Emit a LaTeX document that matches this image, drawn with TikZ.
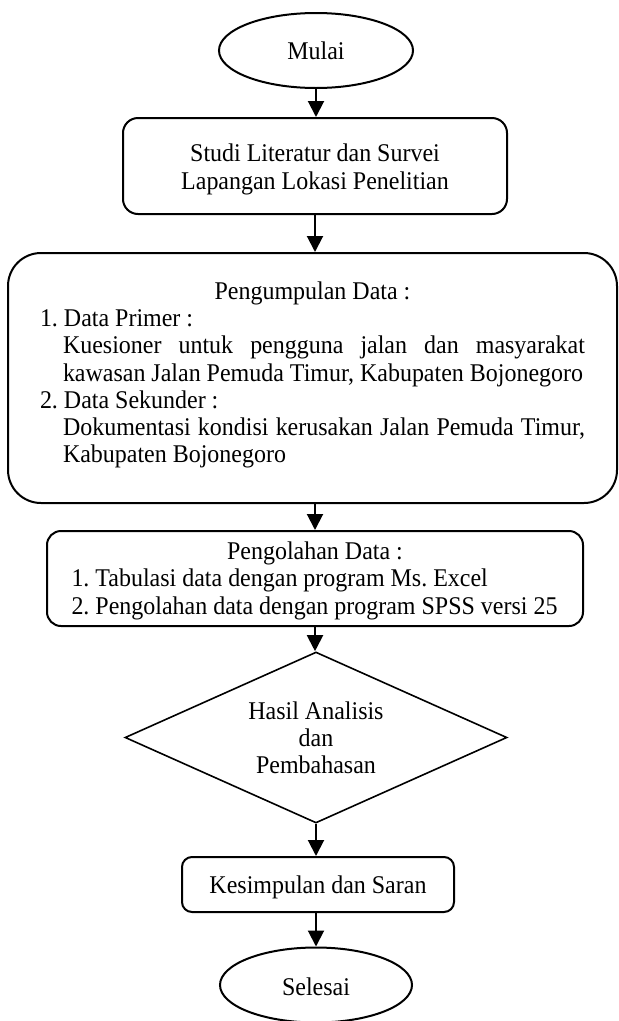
\documentclass[tikz,border=0pt]{standalone}
\usepackage{fontspec}
\setmainfont[FakeStretch=0.94]{Liberation Serif}
\usetikzlibrary{shapes.geometric,arrows.meta}
\newcommand{\upstrut}[1]{\rule{0pt}{#1}}
\begin{document}
\begin{tikzpicture}[x=1pt,y=1pt,
  every node/.style={font=\fontsize{25.5}{27.2}\selectfont, inner sep=0pt},
  rbox/.style={draw, line width=2pt, rounded corners=#1},
  oval/.style={ellipse, draw, line width=2pt},
  arr/.style={line width=2pt, -{Triangle[length=16pt,width=16pt]}},
]
\useasboundingbox (0,0) rectangle (619,-1021);
\node[oval, minimum width=194pt, minimum height=75pt] (mulai) at (316,-50.5) {Mulai};
\node[rbox=15pt, minimum width=384pt, minimum height=96pt, align=center] (studi) at (315,-166)
  {\upstrut{24.4pt}Studi Literatur dan Survei\\Lapangan Lokasi Penelitian};
\node[rbox=33pt, minimum width=609pt, minimum height=250pt, align=left] (kumpul) at (312.5,-378)
  {\makebox[545pt][c]{Pengumpulan Data :}\\
   1.\ Data Primer :\\
   \hspace*{23pt}\makebox[522pt][s]{Kuesioner untuk pengguna jalan dan masyarakat}\\
   \hspace*{23pt}kawasan Jalan Pemuda Timur, Kabupaten Bojonegoro\\
   2.\ Data Sekunder :\\
   \hspace*{23pt}\makebox[522pt][s]{Dokumentasi kondisi kerusakan Jalan Pemuda Timur,}\\
   \hspace*{23pt}Kabupaten Bojonegoro\rule[-11.5pt]{0pt}{1pt}};
\node[rbox=14pt, minimum width=536pt, minimum height=95pt, align=left] (olah) at (315,-578.5)
  {\makebox[487pt][c]{\upstrut{22.4pt}Pengolahan Data :}\\
   1.\ Tabulasi data dengan program Ms.\ Excel\\
   2.\ Pengolahan data dengan program SPSS versi 25};
\node[diamond, draw, line width=1.6pt, minimum width=382pt, minimum height=171pt, aspect=2.234, align=center] (hasil) at (316,-737.5)
  {Hasil Analisis\\dan\\Pembahasan};
\node[rbox=10pt, minimum width=272pt, minimum height=55pt] (simpul) at (318,-884.5) {\upstrut{24.4pt}Kesimpulan dan Saran};
\node[oval, minimum width=192pt, minimum height=75pt] (selesai) at (316,-985) {\upstrut{22pt}Selesai};
\draw[arr] (mulai.south) -- (mulai.south |- studi.north);
\draw[arr] (studi.south) -- (studi.south |- kumpul.north);
\draw[arr] (studi.south |- kumpul.south) -- (studi.south |- olah.north);
\draw[arr] (olah.south) -- (olah.south |- hasil.north);
\draw[arr] (hasil.south) -- (hasil.south |- simpul.north);
\draw[arr] (hasil.south |- simpul.south) -- (hasil.south |- selesai.north);
\end{tikzpicture}
\end{document}
